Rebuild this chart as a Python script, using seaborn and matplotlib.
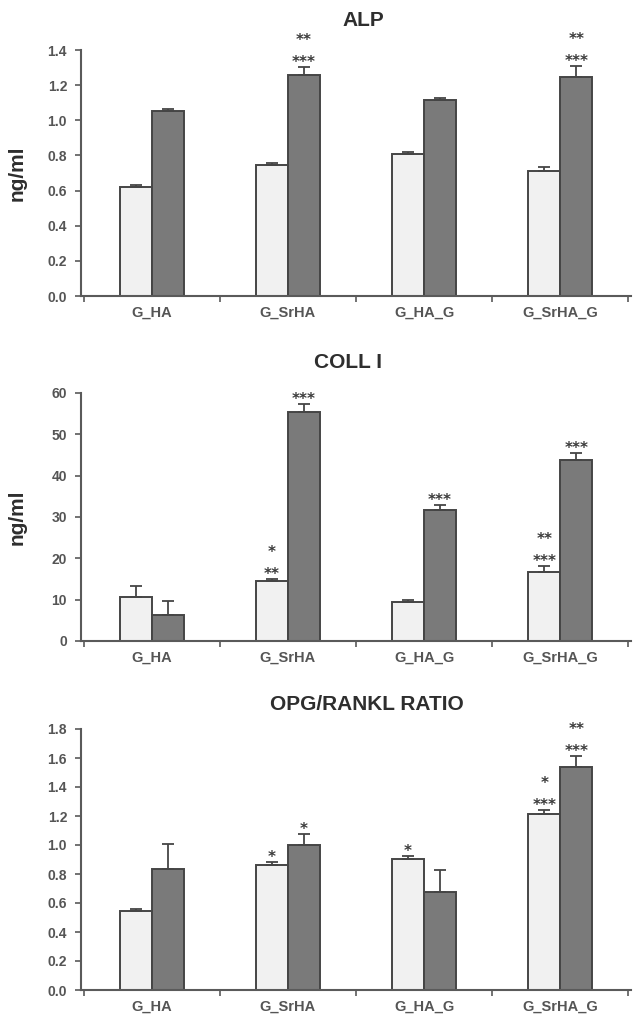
import numpy as np
import pandas as pd
import matplotlib
matplotlib.use("Agg")
import matplotlib.pyplot as plt
from matplotlib.ticker import FixedLocator
from matplotlib.container import BarContainer
import seaborn as sns

# ---- data ---------------------------------------------------------------
categories = ["G_HA", "G_SrHA", "G_HA_G", "G_SrHA_G"]
series = ["series_1", "series_2"]

alp_light = [0.62, 0.745, 0.81, 0.71]
alp_light_err = [0.01, 0.01, 0.01, 0.025]
alp_dark = [1.055, 1.26, 1.115, 1.245]
alp_dark_err = [0.01, 0.045, 0.01, 0.063]

coll_light = [10.7, 14.6, 9.4, 16.8]
coll_light_err = [2.7, 0.5, 0.5, 1.3]
coll_dark = [6.2, 55.5, 31.6, 43.8]
coll_dark_err = [3.5, 1.8, 1.3, 1.7]

opg_light = [0.545, 0.863, 0.903, 1.215]
opg_light_err = [0.015, 0.022, 0.022, 0.023]
opg_dark = [0.836, 1.0, 0.679, 1.535]
opg_dark_err = [0.17, 0.077, 0.15, 0.076]

# significance marks: (category, series index, lines from bottom to top)
alp_stars = [("G_SrHA", 1, ["***", "**"]), ("G_SrHA_G", 1, ["***", "**"])]
coll_stars = [("G_SrHA", 0, ["**", "*"]), ("G_SrHA", 1, ["***"]),
              ("G_HA_G", 1, ["***"]), ("G_SrHA_G", 0, ["***", "**"]),
              ("G_SrHA_G", 1, ["***"])]
opg_stars = [("G_SrHA", 0, ["*"]), ("G_SrHA", 1, ["*"]), ("G_HA_G", 0, ["*"]),
             ("G_SrHA_G", 0, ["***", "*"]), ("G_SrHA_G", 1, ["***", "**"])]

alp_ticks = [0.0, 0.2, 0.4, 0.6, 0.8, 1.0, 1.2, 1.4]
coll_ticks = [0, 10, 20, 30, 40, 50, 60]
opg_ticks = [0.0, 0.2, 0.4, 0.6, 0.8, 1.0, 1.2, 1.4, 1.6, 1.8]

# ---- style --------------------------------------------------------------
sns.set_style("white")
plt.rcParams["font.family"] = ["Liberation Sans", "DejaVu Sans"]

LIGHT = "#f1f1f1"
DARK = "#7a7a7a"
EDGE = "#454545"
AXIS = "#5a5a5a"
TEXT = "#2e2e2e"
TICKTXT = "#555555"

W, H = 639, 1017
fig = plt.figure(figsize=(W / 100, H / 100), dpi=100)
fig.patch.set_facecolor("white")

panels = [
    dict(title="ALP", title_x=363, title_y=20, top=50, bottom=296,
         light=alp_light, light_err=alp_light_err, dark=alp_dark, dark_err=alp_dark_err,
         stars=alp_stars, ticks=alp_ticks, fmt="{:.1f}", ylabel="ng/ml"),
    dict(title="COLL I", title_x=348, title_y=362, top=393, bottom=641,
         light=coll_light, light_err=coll_light_err, dark=coll_dark, dark_err=coll_dark_err,
         stars=coll_stars, ticks=coll_ticks, fmt="{:.0f}", ylabel="ng/ml"),
    dict(title="OPG/RANKL RATIO", title_x=367, title_y=705, top=729, bottom=990,
         light=opg_light, light_err=opg_light_err, dark=opg_dark, dark_err=opg_dark_err,
         stars=opg_stars, ticks=opg_ticks, fmt="{:.1f}", ylabel=None),
]

left_px, right_px = 81, 631

for p in panels:
    ax = fig.add_axes([left_px / W, 1 - p["bottom"] / H,
                       (right_px - left_px) / W, (p["bottom"] - p["top"]) / H])
    df = pd.DataFrame({
        "group": categories * 2,
        "series": [series[0]] * 4 + [series[1]] * 4,
        "value": list(p["light"]) + list(p["dark"]),
    })
    sns.barplot(data=df, x="group", y="value", hue="series", order=categories,
                hue_order=series, palette=[LIGHT, DARK], saturation=1, width=0.47,
                edgecolor=EDGE, linewidth=1.4, errorbar=None, legend=False, ax=ax)

    vals = [p["light"], p["dark"]]
    errs = [p["light_err"], p["dark_err"]]
    bar_conts = [c for c in ax.containers if isinstance(c, BarContainer)]
    tops = {}
    for si, cont in enumerate(bar_conts):
        for ci, bar in enumerate(cont.patches):
            x = bar.get_x() + bar.get_width() / 2
            v, e = vals[si][ci], errs[si][ci]
            ax.errorbar(x, v, yerr=[[0], [e]], fmt="none", ecolor=EDGE,
                        elinewidth=1.3, capsize=4, capthick=1.3, zorder=3)
            tops[(categories[ci], si)] = (x, v + e)

    # significance asterisks stacked above the error bars
    for cat, si, lines in p["stars"]:
        x, y = tops[(cat, si)]
        for li, s in enumerate(lines):
            center_px = 9 + 22 * li
            ax.annotate(s, (x, y), xytext=(0, (center_px - 9.0) * 0.72),
                        textcoords="offset points", ha="center", va="baseline",
                        fontsize=11, fontweight="bold", color="#3a3a3a",
                        family="DejaVu Sans", annotation_clip=False)

    ax.set_xlim(-0.52, 3.52)
    ax.set_ylim(p["ticks"][0], p["ticks"][-1])
    ax.set_yticks(p["ticks"])
    ax.set_yticklabels([p["fmt"].format(t) for t in p["ticks"]])
    ax.set_xticks(range(len(categories)))
    ax.set_xticklabels(categories)
    ax.xaxis.set_minor_locator(FixedLocator([-0.5, 0.5, 1.5, 2.5, 3.5]))
    ax.tick_params(axis="x", which="major", length=0, pad=7, labelsize=10.5,
                   labelcolor=TICKTXT)
    ax.tick_params(axis="x", which="minor", length=4, width=1.2, color=AXIS,
                   direction="out", bottom=True)
    ax.tick_params(axis="y", length=4, width=1.2, color=AXIS, direction="out",
                   left=True, pad=6, labelsize=10, labelcolor=TICKTXT)
    for lab in ax.get_xticklabels() + ax.get_yticklabels():
        lab.set_fontweight("bold")
    for side in ("top", "right"):
        ax.spines[side].set_visible(False)
    for side in ("left", "bottom"):
        ax.spines[side].set_color(AXIS)
        ax.spines[side].set_linewidth(1.5)
    ax.set_xlabel("")
    if p["ylabel"]:
        ax.set_ylabel(p["ylabel"], fontsize=15, fontweight="bold", color=TEXT)
        ax.yaxis.set_label_coords((27 - left_px) / (right_px - left_px), 0.5)
    else:
        ax.set_ylabel("")
    ax.set_facecolor("white")

    fig.text(p["title_x"] / W, 1 - p["title_y"] / H, p["title"], ha="center",
             va="center", fontsize=15, fontweight="bold", color=TEXT)

fig.savefig("out.png", dpi=100, facecolor="white")
